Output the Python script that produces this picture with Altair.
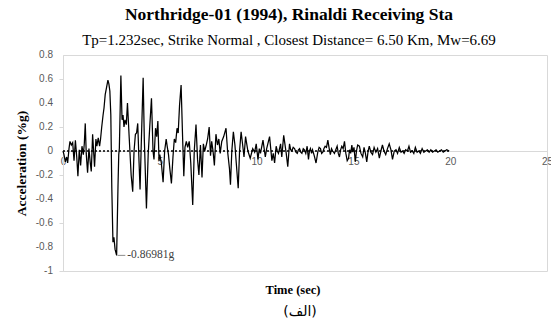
import altair as alt
import pandas as pd

# Ground-motion record: time (s) and acceleration (g)
time_s = [
    0.00, 0.05, 0.12, 0.19, 0.24, 0.31, 0.36, 0.43, 0.50, 0.57,
    0.64, 0.71, 0.77, 0.84, 0.91, 0.98, 1.05, 1.10, 1.15, 1.20,
    1.27, 1.34, 1.41, 1.46, 1.53, 1.58, 1.63, 1.70, 1.75, 1.82,
    1.89, 1.94, 2.00, 2.07, 2.12, 2.18, 2.25, 2.32, 2.37, 2.42,
    2.47, 2.52, 2.58, 2.63, 2.69, 2.77, 2.84, 2.88, 2.91, 2.99,
    3.05, 3.10, 3.15, 3.20, 3.27, 3.33, 3.42, 3.52, 3.60, 3.67,
    3.74, 3.80, 3.86, 3.93, 3.98, 4.05, 4.14, 4.20, 4.31, 4.40,
    4.48, 4.57, 4.65, 4.70, 4.78, 4.84, 4.90, 4.96, 5.00, 5.08,
    5.17, 5.25, 5.33, 5.38, 5.45, 5.52, 5.60, 5.68, 5.75, 5.82,
    5.89, 5.95, 6.02, 6.10, 6.18, 6.24, 6.30, 6.37, 6.44, 6.52,
    6.60, 6.70, 6.78, 6.87, 6.95, 7.02, 7.10, 7.18, 7.25, 7.32,
    7.40, 7.47, 7.55, 7.62, 7.68, 7.75, 7.82, 7.90, 7.98, 8.05,
    8.12, 8.20, 8.30, 8.42, 8.50, 8.60, 8.65, 8.72, 8.80, 8.88,
    8.95, 9.05, 9.12, 9.20, 9.28, 9.35, 9.43, 9.55, 9.67, 9.80,
    9.90, 9.98, 10.07, 10.14, 10.20, 10.33, 10.45, 10.52, 10.58, 10.67,
    10.79, 10.86, 10.93, 11.01, 11.07, 11.13, 11.24, 11.30, 11.40, 11.53,
    11.61, 11.70, 11.76, 11.82, 11.89, 11.96, 12.03, 12.10, 12.16, 12.22,
    12.28, 12.34, 12.41, 12.47, 12.54, 12.61, 12.68, 12.73, 12.78, 12.84,
    12.89, 12.98, 13.07, 13.16, 13.23, 13.30, 13.36, 13.42, 13.48, 13.54,
    13.61, 13.68, 13.75, 13.81, 13.87, 13.93, 14.02, 14.09, 14.16, 14.22,
    14.28, 14.34, 14.40, 14.47, 14.54, 14.61, 14.68, 14.75, 14.80, 14.86,
    14.92, 14.97, 15.03, 15.10, 15.16, 15.22, 15.31, 15.39, 15.48, 15.55,
    15.62, 15.69, 15.76, 15.82, 15.90, 15.99, 16.07, 16.16, 16.25, 16.34,
    16.42, 16.50, 16.58, 16.67, 16.76, 16.85, 16.94, 17.02, 17.11, 17.20,
    17.28, 17.37, 17.46, 17.54, 17.62, 17.70, 17.79, 17.87, 17.95, 18.04,
    18.12, 18.20, 18.29, 18.38, 18.46, 18.55, 18.64, 18.73, 18.82, 18.91,
    19.00, 19.09, 19.18, 19.27, 19.36, 19.45, 19.55, 19.64, 19.73, 19.82, 19.95,
]
accel_g = [
    0.00, -0.03, -0.09, -0.05, -0.10, 0.02, 0.08, 0.05, 0.07, -0.08,
    0.09, -0.05, -0.21, 0.01, -0.12, 0.04, -0.03, 0.06, 0.23, -0.02,
    -0.18, 0.02, -0.10, -0.17, 0.14, 0.00, -0.13, 0.10, 0.04, 0.11,
    0.04, 0.10, 0.20, 0.30, 0.36, 0.47, 0.53, 0.59, 0.56, 0.50,
    0.30, -0.30, -0.76, -0.72, -0.82, -0.86981, -0.30, -0.03, 0.02, 0.63,
    0.26, 0.30, 0.20, 0.26, 0.22, 0.40, 0.11, -0.20, -0.34, 0.00,
    0.14, 0.15, 0.23, -0.10, -0.32, 0.10, 0.61, 0.10, -0.48, -0.03,
    0.20, 0.44, 0.00, -0.07, 0.19, 0.12, 0.25, -0.08, -0.03, -0.10,
    -0.26, 0.00, 0.10, 0.04, -0.03, -0.15, -0.27, -0.05, 0.10, 0.07,
    0.19, 0.15, 0.38, 0.55, 0.10, -0.21, 0.03, 0.08, 0.03, 0.08,
    -0.10, -0.45, 0.00, 0.22, -0.07, -0.20, 0.05, -0.22, 0.06, 0.00,
    0.05, 0.10, 0.20, -0.04, 0.08, 0.00, -0.12, 0.14, 0.05, 0.10,
    -0.02, 0.08, 0.12, 0.19, 0.00, -0.15, -0.28, 0.00, 0.16, 0.05,
    -0.10, -0.31, 0.00, 0.16, 0.05, -0.05, 0.12, 0.00, -0.06, 0.02,
    -0.01, 0.06, -0.07, 0.02, -0.02, 0.09, -0.05, 0.02, 0.06, 0.12,
    -0.08, -0.02, -0.10, 0.04, 0.00, -0.02, 0.06, -0.05, 0.13, -0.02,
    -0.13, 0.06, 0.01, 0.00, 0.03, 0.02, -0.01, -0.02, 0.01, 0.02,
    -0.01, -0.02, 0.02, 0.01, -0.02, 0.04, -0.07, 0.00, 0.02, -0.02,
    0.01, -0.04, -0.10, -0.01, 0.03, 0.02, -0.02, -0.01, 0.02, 0.04,
    0.03, 0.09, 0.02, -0.03, 0.02, 0.00, -0.02, 0.01, 0.04, -0.02,
    -0.05, 0.01, 0.04, 0.02, 0.08, -0.02, -0.08, -0.06, 0.01, -0.02,
    0.05, -0.01, 0.03, -0.09, 0.00, 0.05, 0.04, -0.02, -0.05, 0.03,
    -0.02, -0.09, 0.00, 0.04, -0.01, -0.03, 0.03, -0.01, 0.02, -0.06,
    0.00, 0.05, 0.00, -0.03, 0.02, 0.06, 0.01, -0.07, 0.00, 0.01,
    -0.02, 0.03, -0.01, 0.00, -0.02, 0.01, 0.00, 0.04, -0.01, 0.00,
    -0.02, 0.03, -0.01, 0.00, -0.02, 0.02, -0.01, 0.00, 0.01, -0.01,
    0.01, -0.01, 0.00, 0.01, -0.01, 0.00, 0.01, -0.01, 0.00, 0.01, 0.00,
]

# Peak ground acceleration callout
pga_time = 2.77
pga_value = -0.86981
pga_label = "-0.86981g"

x_ticks = [0, 5, 10, 15, 20, 25]
y_ticks = [-1, -0.8, -0.6, -0.4, -0.2, 0, 0.2, 0.4, 0.6, 0.8]
y_tick_labels = [f"{v:g}" for v in y_ticks]
record_end = 20

title_text = "Northridge-01 (1994), Rinaldi Receiving Sta"
subtitle_text = "Tp=1.232sec, Strike Normal , Closest Distance= 6.50 Km, Mw=6.69"
x_title = "Time (sec)"
y_title = "Acceleration (%g)"
caption = "(الف)"

LABEL_FONT = "Liberation Sans"
SERIF = "Liberation Serif"
GRID_GRAY = "#d9d9d9"
LABEL_GRAY = "#595959"

wave_df = pd.DataFrame({"t": time_s, "a": accel_g})

x_scale = alt.Scale(domain=[0, 25], nice=False, zero=False)
y_scale = alt.Scale(domain=[-1, 0.8], nice=False)

wave = alt.Chart(wave_df).mark_line(color="black", strokeWidth=1.25).encode(
    x=alt.X(
        "t:Q",
        scale=x_scale,
        axis=alt.Axis(
            values=x_ticks,
            offset=-120,
            tickSize=0,
            grid=False,
            domainColor=GRID_GRAY,
            labelFont=LABEL_FONT,
            labelFontSize=10,
            labelColor=LABEL_GRAY,
            labelPadding=5,
            labelFlush=False,
            labelOverlap=False,
            title=None,
        ),
    ),
    y=alt.Y(
        "a:Q",
        scale=y_scale,
        axis=alt.Axis(
            values=y_ticks,
            labels=False,
            tickSize=4,
            tickColor=GRID_GRAY,
            domainColor=GRID_GRAY,
            grid=False,
            title=y_title,
            titleFont=SERIF,
            titleFontSize=13.5,
            titleFontWeight="bold",
            titleColor="black",
            titlePadding=30,
        ),
    ),
    order="t:Q",
)

# Y tick labels, right-aligned beside the tick marks
ytick_df = pd.DataFrame({"v": y_ticks, "label": y_tick_labels})
ytick_text = alt.Chart(ytick_df).mark_text(
    align="right", baseline="middle", font=LABEL_FONT, fontSize=10, color=LABEL_GRAY
).encode(
    x=alt.value(-10),
    y=alt.Y("v:Q", scale=y_scale),
    text="label:N",
)

# Dotted zero reference over the duration of the record
zero_df = pd.DataFrame({"t0": [0], "t1": [record_end], "a": [0]})
zero_line = alt.Chart(zero_df).mark_rule(
    color="black", strokeDash=[2, 2], strokeWidth=1.3
).encode(
    x=alt.X("t0:Q", scale=x_scale),
    x2="t1:Q",
    y=alt.Y("a:Q", scale=y_scale),
)

# Leader line and value label for the peak
pga_df = pd.DataFrame({
    "t0": [pga_time + 0.05],
    "t1": [pga_time + 0.45],
    "tx": [pga_time + 0.55],
    "a": [pga_value],
    "label": [pga_label],
})
leader = alt.Chart(pga_df).mark_rule(color="#8c8c8c", strokeWidth=1).encode(
    x=alt.X("t0:Q", scale=x_scale), x2="t1:Q", y=alt.Y("a:Q", scale=y_scale)
)
pga_text = alt.Chart(pga_df).mark_text(
    align="left", baseline="middle", font=SERIF, fontSize=11.5, color="#404040"
).encode(
    x=alt.X("tx:Q", scale=x_scale), y=alt.Y("a:Q", scale=y_scale), text="label:N"
)


def caption_text(text, x, y, font, size, weight="normal", color="black"):
    return alt.Chart(pd.DataFrame({"s": [text]})).mark_text(
        align="center", baseline="middle", font=font, fontSize=size,
        fontWeight=weight, color=color,
    ).encode(x=alt.value(x), y=alt.value(y), text="s:N")


title_mark = caption_text(title_text, 226, -40, SERIF, 17.5, "bold")
subtitle_mark = caption_text(subtitle_text, 226, -15, SERIF, 15)
x_title_mark = caption_text(x_title, 230, 235, SERIF, 12.5, "bold")
caption_mark = caption_text(caption, 237, 257, "DejaVu Sans", 14)

chart = alt.layer(
    wave, zero_line, leader, pga_text, ytick_text,
    title_mark, subtitle_mark, x_title_mark, caption_mark,
).properties(
    width=484,
    height=216,
    padding={"left": 63, "top": 55, "right": 4, "bottom": 61},
    autosize=alt.AutoSizeParams(type="none"),
    background="white",
).configure_view(
    stroke=GRID_GRAY, strokeWidth=1
)

chart.save("out.html", embed_options={"renderer": "svg", "actions": False})
